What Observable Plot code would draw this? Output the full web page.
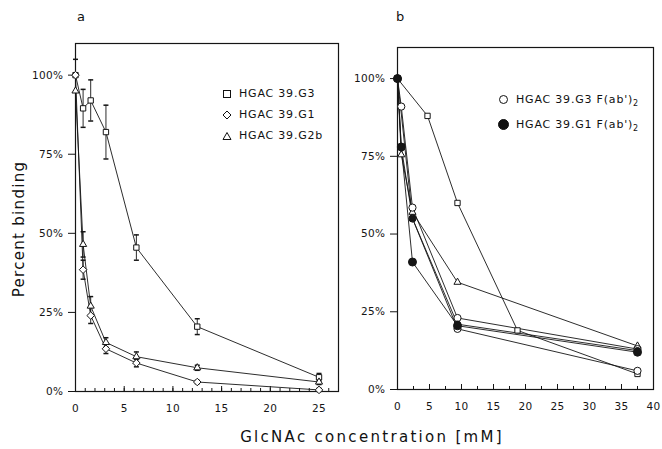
<!DOCTYPE html>
<html>
<head>
<meta charset="utf-8">
<script src="https://cdn.jsdelivr.net/npm/d3@7"></script>
<script src="https://cdn.jsdelivr.net/npm/@observablehq/plot@0.6"></script>
<style>
  body { margin: 0; background: #fff; }
  #root { position: relative; width: 662px; height: 449px; font-family: "DejaVu Sans", sans-serif; color: #111; }
  .pnl { position: absolute; top: 0; }
  .pnl svg text { letter-spacing: 0.4px; }
  .lab { position: absolute; white-space: nowrap; }
  .leg { position: absolute; font-size: 11px; letter-spacing: 0.8px; line-height: 21px; }
  .leg div { display: flex; align-items: center; white-space: nowrap; }
  .leg svg { margin-right: 7px; }
  sub { font-size: 8px; vertical-align: -3px; line-height: 0; }
</style>
</head>
<body>
<div id="root">
  <div id="pa" class="pnl" style="left:0px"></div>
  <div id="pb" class="pnl" style="left:340px"></div>
  <div class="lab" style="left:77px;top:9px;font-size:13px;">a</div>
  <div class="lab" style="left:396px;top:9px;font-size:13px;">b</div>
  <div class="lab" style="left:19px;top:229px;font-size:15px;letter-spacing:1.3px;transform:translate(-50%,-50%) rotate(-90deg);">Percent binding</div>
  <div class="lab" style="left:372px;top:437px;font-size:15px;letter-spacing:2.3px;transform:translate(-50%,-50%);">GlcNAc concentration [mM]</div>
  <div class="leg" style="left:222px;top:83px;">
    <div><svg width="10" height="10"><rect x="1.5" y="1.5" width="7" height="7" fill="#fff" stroke="#111"/></svg><span>HGAC 39.G3</span></div>
    <div><svg width="10" height="10"><path d="M5,1L9,5L5,9L1,5Z" fill="#fff" stroke="#111"/></svg><span>HGAC 39.G1</span></div>
    <div><svg width="10" height="10"><path d="M5,1.5L9,8.5L1,8.5Z" fill="#fff" stroke="#111"/></svg><span>HGAC 39.G2b</span></div>
  </div>
  <div class="leg" style="left:498px;top:87px;line-height:25px;">
    <div><svg width="11" height="11"><circle cx="5.5" cy="5.5" r="4" fill="#fff" stroke="#111"/></svg><span>HGAC 39.G3 F(ab')<sub>2</sub></span></div>
    <div><svg width="11" height="11"><circle cx="5.5" cy="5.5" r="5" fill="#111" stroke="#111"/></svg><span>HGAC 39.G1 F(ab')<sub>2</sub></span></div>
  </div>
</div>
<script>
// ---------- Panel a data ----------
const concA = [0, 0.78, 1.56, 3.125, 6.25, 12.5, 25];
const g3    = [100, 89.5, 92, 82, 45.5, 20.5, 4.5];
const g3Err = [5, 6, 6.5, 8.5, 4, 2.5, 1.2];
const g1    = [100, 38.5, 24, 13.5, 9, 3, 0.5];
const g1Err = [0, 3, 2.5, 1.5, 1.2, 0.5, 0.5];
const g2b   = [95, 46.5, 27, 15.5, 11, 7.5, 3];
const g2bErr= [0, 4, 3, 1.5, 1.5, 0.8, 0.8];
const xTicksA = [0, 5, 10, 15, 20, 25];
const yTicks = [0, 25, 50, 75, 100];

// ---------- Panel b data ----------
const bSqX   = [0, 4.69, 9.375, 18.75, 37.5];
const bSqY   = [100, 88, 60, 19, 5];
const bTriX  = [0, 0.59, 2.34, 9.375, 37.5];
const bTriY  = [100, 75.5, 57, 34.5, 14];
const bG3aX  = [0, 0.59, 2.34, 9.375, 37.5];
const bG3aY  = [100, 91, 58.5, 23, 13];
const bG3bX  = [0, 2.34, 9.375, 37.5];
const bG3bY  = [100, 55, 19.5, 6];
const bG1aX  = [0, 0.59, 2.34, 9.375, 37.5];
const bG1aY  = [100, 78, 41, 20.5, 12];
const bG1bX  = [0, 0.59, 2.34, 9.375, 37.5];
const bG1bY  = [100, 78, 55, 21, 12.5];
const xTicksB = [0, 5, 10, 15, 20, 25, 30, 35, 40];

const cap = {draw(ctx, size) { const r = Math.sqrt(size / Math.PI); ctx.moveTo(-r, 0); ctx.lineTo(r, 0); }};
const pct = d => d + "%";
const ink = "#151515";

function rowsOf(name, xs, ys, es) {
  return xs.map((x, i) => ({s: name, x, y: ys[i], e: es ? es[i] : 0}));
}

// ---------- Panel a ----------
const A = [
  {rows: rowsOf("G3", concA, g3, g3Err), symbol: "square2"},
  {rows: rowsOf("G1", concA, g1, g1Err), symbol: "diamond2"},
  {rows: rowsOf("G2b", concA, g2b, g2bErr), symbol: "triangle2"}
];
const allA = A.flatMap(s => s.rows);
const errA = allA.filter(d => d.e > 0);

const plotA = Plot.plot({
  width: 345, height: 421,
  marginLeft: 75, marginRight: 7, marginTop: 43, marginBottom: 30,
  x: {domain: [0, 27]},
  y: {domain: [0, 110]},
  style: {fontFamily: "DejaVu Sans", fontSize: "10.5px", color: ink, background: "transparent"},
  marks: [
    Plot.frame({stroke: ink, strokeWidth: 1.2}),
    Plot.axisY({ticks: yTicks, tickFormat: pct, tickSize: 7, tickPadding: 5, label: null}),
    Plot.axisX({ticks: xTicksA, tickSize: 0, tickPadding: 13, label: null}),
    Plot.axisX({ticks: d3.range(0, 28, 1), tickSize: -3, tickFormat: () => "", label: null}),
    Plot.axisX({ticks: xTicksA, tickSize: -5, tickFormat: () => "", label: null}),
    ...A.map(s => Plot.line(s.rows, {x: "x", y: "y", stroke: ink, strokeWidth: 0.9})),
    Plot.ruleX(errA, {x: "x", y1: d => d.y - d.e, y2: d => d.y + d.e, stroke: ink, strokeWidth: 0.9}),
    Plot.dot(errA, {x: "x", y: d => d.y + d.e, symbol: cap, r: 2.5, stroke: ink, fill: "none"}),
    Plot.dot(errA, {x: "x", y: d => d.y - d.e, symbol: cap, r: 2.5, stroke: ink, fill: "none"}),
    ...A.map(s => Plot.dot(s.rows, {x: "x", y: "y", symbol: s.symbol, r: 3.4, fill: "white", stroke: ink, strokeWidth: 1}))
  ]
});
document.getElementById("pa").appendChild(plotA);

// ---------- Panel b ----------
const B = [
  {rows: rowsOf("sq", bSqX, bSqY), symbol: "square2", fill: "white", r: 3.4},
  {rows: rowsOf("tri", bTriX, bTriY), symbol: "triangle2", fill: "white", r: 3.4},
  {rows: rowsOf("G3a", bG3aX, bG3aY), symbol: "circle", fill: "white", r: 3.6},
  {rows: rowsOf("G3b", bG3bX, bG3bY), symbol: "circle", fill: "white", r: 3.6},
  {rows: rowsOf("G1a", bG1aX, bG1aY), symbol: "circle", fill: ink, r: 4},
  {rows: rowsOf("G1b", bG1bX, bG1bY), symbol: "circle", fill: ink, r: 3.2}
];

const plotB = Plot.plot({
  width: 322, height: 421,
  marginLeft: 57, marginRight: 9, marginTop: 47, marginBottom: 32,
  x: {domain: [0, 40]},
  y: {domain: [0, 110]},
  style: {fontFamily: "DejaVu Sans", fontSize: "10.5px", color: ink, background: "transparent"},
  marks: [
    Plot.frame({stroke: ink, strokeWidth: 1.2}),
    Plot.axisY({ticks: yTicks, tickFormat: pct, tickSize: 7, tickPadding: 5, label: null}),
    Plot.axisX({ticks: xTicksB, tickSize: 0, tickPadding: 13, label: null}),
    Plot.axisX({ticks: d3.range(0, 40.1, 2.5), tickSize: -3, tickFormat: () => "", label: null}),
    Plot.axisX({ticks: xTicksB, tickSize: -5, tickFormat: () => "", label: null}),
    ...B.map(s => Plot.line(s.rows, {x: "x", y: "y", stroke: ink, strokeWidth: 0.9})),
    ...B.map(s => Plot.dot(s.rows, {x: "x", y: "y", symbol: s.symbol, r: s.r, fill: s.fill, stroke: ink, strokeWidth: 1}))
  ]
});
document.getElementById("pb").appendChild(plotB);
</script>
</body>
</html>
